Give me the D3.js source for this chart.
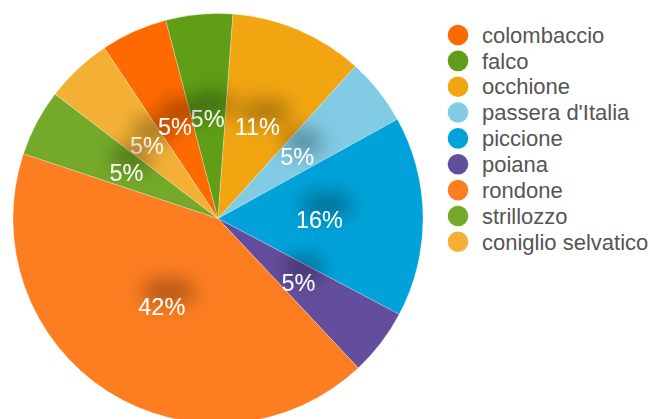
<!DOCTYPE html>
<html>
<head>
<meta charset="utf-8">
<script src="https://cdn.jsdelivr.net/npm/d3@7"></script>
<style>
  html, body { margin: 0; padding: 0; background: #fff; overflow: hidden; }
  svg { display: block; font-family: "Liberation Sans", Arial, Helvetica, sans-serif; }
</style>
</head>
<body>
<svg id="chart" width="650" height="419"></svg>
<script>
// Sightings by species
const categories = ["colombaccio", "falco", "occhione", "passera d'Italia", "piccione",
                    "poiana", "rondone", "strillozzo", "coniglio selvatico"];
const counts = [1, 1, 2, 1, 3, 1, 8, 1, 1];
const colors = ["#ff6a00", "#5f9e16", "#f1a511", "#82cbe4", "#00a2d9",
                "#634e9d", "#fd7d21", "#74a92a", "#f3b034"];

const width = 650, height = 419;
const cx = 218, cy = 218.5, radius = 205;
const startDeg = -33.7;

const svg = d3.select("#chart");

// soft dark halo placed above each percentage label
const defs = svg.append("defs");
const f = defs.append("filter").attr("id", "halo")
  .attr("x", "-150%").attr("y", "-250%").attr("width", "400%").attr("height", "600%");
f.append("feMorphology").attr("in", "SourceAlpha").attr("operator", "dilate")
  .attr("radius", 2).attr("result", "d");
f.append("feGaussianBlur").attr("in", "d").attr("stdDeviation", 10).attr("result", "b");
f.append("feOffset").attr("in", "b").attr("dx", 6).attr("dy", -15).attr("result", "o");
f.append("feFlood").attr("flood-color", "#000").attr("flood-opacity", 0.38).attr("result", "c");
f.append("feComposite").attr("in", "c").attr("in2", "o").attr("operator", "in").attr("result", "s");
const m = f.append("feMerge");
m.append("feMergeNode").attr("in", "s");
m.append("feMergeNode").attr("in", "SourceGraphic");

const data = categories.map((c, i) => ({ name: c, value: counts[i], color: colors[i] }));
const total = d3.sum(counts);

const start = startDeg * Math.PI / 180;
const pie = d3.pie().value(d => d.value).sort(null)
  .startAngle(start).endAngle(start + 2 * Math.PI);
const arcs = pie(data);

const arc = d3.arc().innerRadius(0).outerRadius(radius);
const labelArc = d3.arc().innerRadius(radius * 0.5).outerRadius(radius * 0.5);

const g = svg.append("g").attr("transform", `translate(${cx},${cy})`);

g.selectAll("path.slice")
  .data(arcs)
  .join("path")
  .attr("class", "slice")
  .attr("d", arc)
  .attr("fill", d => d.data.color)
  .attr("stroke", "#fff")
  .attr("stroke-opacity", 0.45)
  .attr("stroke-width", 0.6);

const fmt = d3.format(".0%");
g.selectAll("text.pct")
  .data(arcs.slice().reverse())
  .join("text")
  .attr("class", "pct")
  .attr("transform", d => {
    const [x, y] = labelArc.centroid(d);
    return `translate(${x - 1},${y + 2})`;
  })
  .attr("text-anchor", "middle")
  .attr("dy", "0.36em")
  .attr("fill", "#fff")
  .attr("font-size", 23.5)
  .attr("filter", "url(#halo)")
  .text(d => fmt(d.data.value / total));

// legend
const legend = svg.append("g").attr("transform", "translate(458,35)");
const rowH = 25.85;
const item = legend.selectAll("g.item")
  .data(data)
  .join("g")
  .attr("class", "item")
  .attr("transform", (d, i) => `translate(0,${i * rowH})`);

item.append("circle")
  .attr("r", 10.3)
  .attr("fill", d => d.color);

item.append("text")
  .attr("x", 24)
  .attr("dy", "0.35em")
  .attr("font-size", 22)
  .attr("fill", "#555")
  .text(d => d.name);
</script>
</body>
</html>
